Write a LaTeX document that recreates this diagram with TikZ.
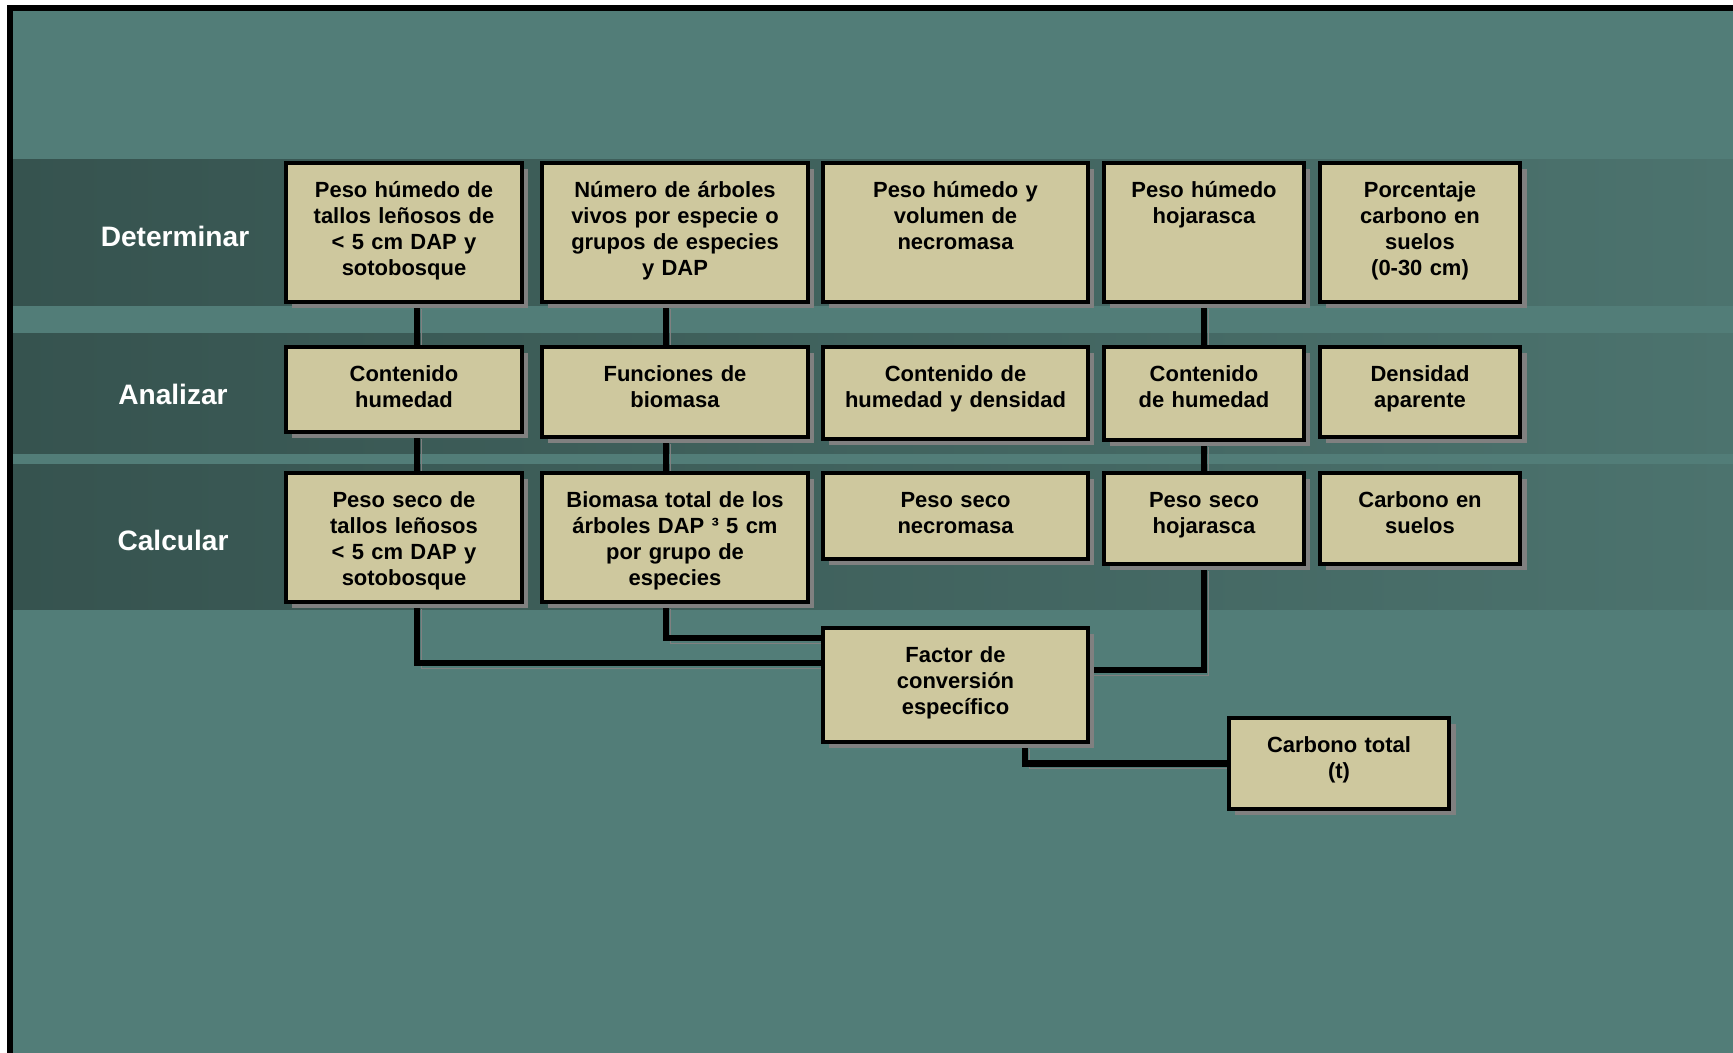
\documentclass[tikz,border=0pt]{standalone}
\usepackage{fontspec}
\setmainfont{Liberation Sans}
\usetikzlibrary{shadows}

\definecolor{verdefondo}{RGB}{82,125,120}
\definecolor{bandaosc}{RGB}{54,83,79}
\definecolor{bandaclara}{RGB}{76,115,110}
\definecolor{arena}{RGB}{206,200,158}
\definecolor{sombra}{RGB}{128,128,128}

\pgfdeclarelayer{base}
\pgfdeclarelayer{lineas}
\pgfsetlayers{base,lineas,main}

\begin{document}
\begin{tikzpicture}[x=0.02cm, y=-0.02cm,
        caja/.style={draw=black, line width=2pt, fill=arena, anchor=north,
            align=center, inner xsep=0pt, inner ysep=0pt, text height=0.69cm,
            font=\fontsize{12.5}{14.8}\selectfont\bfseries,
            drop shadow={shadow xshift=0.125cm, shadow yshift=-0.125cm,
                fill=sombra, opacity=1}},
        etiqueta/.style={text=white, font=\fontsize{16}{18}\selectfont\bfseries},
        conector/.style={draw=black, line width=3.7pt,
            preaction={draw=sombra, transform canvas={xshift=0.09cm, yshift=-0.1cm}}},
        banda/.style={left color=bandaosc, right color=bandaclara}]
        \useasboundingbox (0,0) rectangle (1733,1053);
        \clip (0,0) rectangle (1733,1053);

        % Fons i franges de les tres etapes
        \begin{pgfonlayer}{base}
            \fill[white] (0,0) rectangle (1733,1053);
            \draw[line width=0.12cm, fill=verdefondo] (10,8) rectangle (1780,1100);
            \fill[banda] (13,160) rectangle (1733,306);
            \fill[banda] (13,334) rectangle (1733,454);
            \fill[banda] (13,465) rectangle (1733,609);
        \end{pgfonlayer}

        % Etiquetes de les files
        \node[etiqueta] (lDet) at (175,236) {Determinar};
        \node[etiqueta] (lAna) at (173,394) {Analizar};
        \node[etiqueta] (lCal) at (173,540) {Calcular};

        % Fila 1: determinar
        \node[caja, text width=4.73cm, text depth=2.1cm] (d1) at (404,161) {Peso húmedo de\\tallos leñosos de\\< 5 cm DAP y\\sotobosque};
        \node[caja, text width=5.33cm, text depth=2.1cm] (d2) at (675,161) {Número de árboles\\vivos por especie o\\grupos de especies\\y DAP};
        \node[caja, text width=5.31cm, text depth=2.1cm] (d3) at (955.5,161) {Peso húmedo y\\volumen de\\necromasa};
        \node[caja, text width=4.01cm, text depth=2.1cm] (d4) at (1204,161) {Peso húmedo\\hojarasca};
        \node[caja, text width=4.01cm, text depth=2.1cm] (d5) at (1420,161) {Porcentaje\\carbono en\\suelos\\(0-30 cm)};

        % Fila 2: analizar
        \node[caja, text width=4.73cm, text depth=1.02cm] (a1) at (404,345) {Contenido\\humedad};
        \node[caja, text width=5.33cm, text depth=1.12cm] (a2) at (675,345) {Funciones de\\biomasa};
        \node[caja, text width=5.31cm, text depth=1.16cm] (a3) at (955.5,345) {Contenido de\\humedad y densidad};
        \node[caja, text width=4.01cm, text depth=1.18cm] (a4) at (1204,345) {Contenido\\de humedad};
        \node[caja, text width=4.01cm, text depth=1.12cm] (a5) at (1420,345) {Densidad\\aparente};

        % Fila 3: calcular
        \node[caja, text width=4.73cm, text depth=1.9cm] (k1) at (404,471) {Peso seco de\\tallos leñosos\\< 5 cm DAP y\\sotobosque};
        \node[caja, text width=5.33cm, text depth=1.9cm] (k2) at (675,471) {Biomasa total de los\\árboles DAP ³ 5 cm\\por grupo de\\especies};
        \node[caja, text width=5.31cm, text depth=1.04cm] (k3) at (955.5,471) {Peso seco\\necromasa};
        \node[caja, text width=4.01cm, text depth=1.14cm] (k4) at (1204,471) {Peso seco\\hojarasca};
        \node[caja, text width=4.01cm, text depth=1.14cm] (k5) at (1420,471) {Carbono en\\suelos};

        % Factor de conversio i resultat final
        \node[caja, text width=5.31cm, text depth=1.6cm] (f) at (955.5,626) {Factor de\\conversión\\específico};
        \node[caja, text width=4.41cm, text depth=1.14cm] (ct) at (1339,716) {Carbono total\\(t)};

        % Connectors
        \coordinate (eje1) at (417,0);
        \coordinate (eje2) at (666,0);
        \begin{pgfonlayer}{lineas}
            \draw[conector] (eje1 |- d1.south) -- (eje1 |- a1.north);
            \draw[conector] (eje2 |- d2.south) -- (eje2 |- a2.north);
            \draw[conector] (d4.south) -- (a4.north);
            \draw[conector] (eje1 |- a1.south) -- (eje1 |- k1.north);
            \draw[conector] (eje2 |- a2.south) -- (eje2 |- k2.north);
            \draw[conector] (a4.south) -- (k4.north);
            \draw[conector] (eje1 |- k1.south) |- ([yshift=0.44cm]f.west);
            \draw[conector] (eje2 |- k2.south) |- ([yshift=0.94cm]f.west);
            \draw[conector] (k4.south) |- ([yshift=0.3cm]f.east);
            \draw[conector] ([xshift=1.39cm]f.south) |- (ct.west);
        \end{pgfonlayer}
    \end{tikzpicture}
\end{document}
